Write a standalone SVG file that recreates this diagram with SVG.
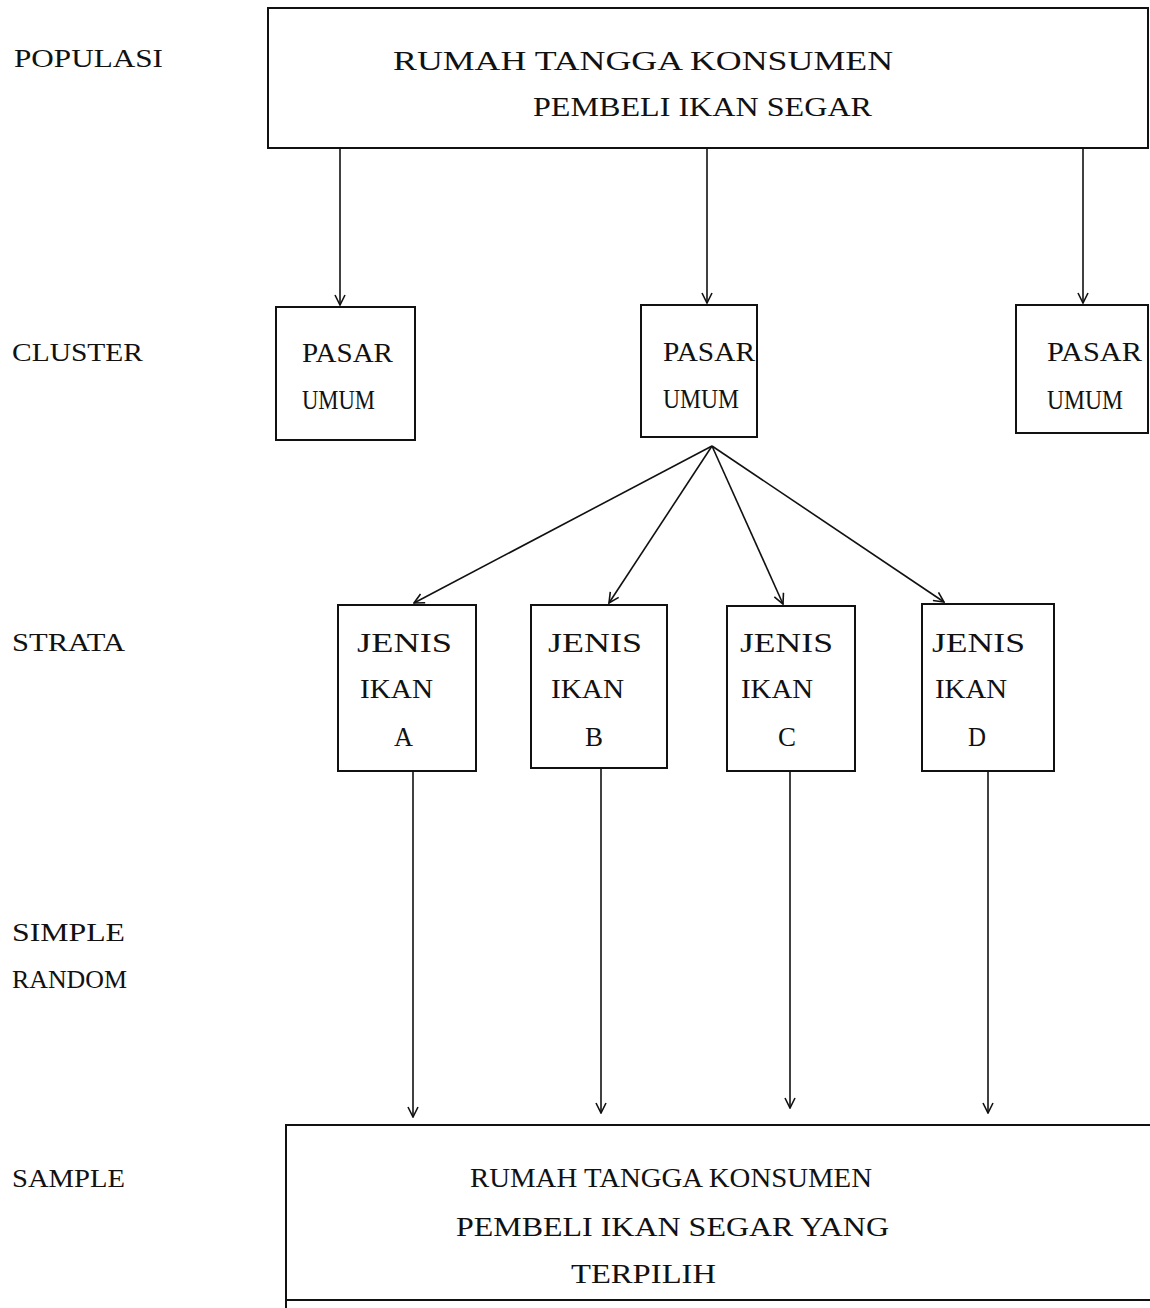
<svg xmlns="http://www.w3.org/2000/svg" width="1150" height="1308" viewBox="0 0 1150 1308">
<style>
text{font-family:"Liberation Serif","Times New Roman",serif;font-size:28px;fill:#111}
.lbl{font-size:25px}
.box{fill:none;stroke:#111;stroke-width:2}
.con{fill:none;stroke:#111;stroke-width:1.6}
</style>
<defs>
<marker id="ah" viewBox="0 0 12 12" refX="11" refY="6" markerWidth="12" markerHeight="12" markerUnits="userSpaceOnUse" orient="auto">
<path d="M1,1 L11,6 L1,11" fill="none" stroke="#111" stroke-width="1.6"/>
</marker>
</defs>
<rect width="1150" height="1308" fill="#fff"/>
<g id="labels">
<text class="lbl" x="14" y="67" textLength="149" lengthAdjust="spacingAndGlyphs">POPULASI</text>
<text class="lbl" x="12" y="361" textLength="131" lengthAdjust="spacingAndGlyphs">CLUSTER</text>
<text class="lbl" x="12" y="651" textLength="113" lengthAdjust="spacingAndGlyphs">STRATA</text>
<text class="lbl" x="12" y="941" textLength="113" lengthAdjust="spacingAndGlyphs">SIMPLE</text>
<text class="lbl" x="12" y="988" textLength="115" lengthAdjust="spacingAndGlyphs">RANDOM</text>
<text class="lbl" x="12" y="1187" textLength="113" lengthAdjust="spacingAndGlyphs">SAMPLE</text>
</g>
<g id="populasi">
<rect class="box" x="268" y="8" width="880" height="140"/>
<text x="393" y="70" textLength="500" lengthAdjust="spacingAndGlyphs">RUMAH TANGGA KONSUMEN</text>
<text x="533" y="116" textLength="339" lengthAdjust="spacingAndGlyphs">PEMBELI IKAN SEGAR</text>
</g>
<g id="cluster1">
<rect class="box" x="276" y="307" width="139" height="133"/>
<text x="302" y="362" textLength="91" lengthAdjust="spacingAndGlyphs">PASAR</text>
<text x="302" y="409" textLength="73" lengthAdjust="spacingAndGlyphs">UMUM</text>
</g>
<g id="cluster2">
<rect class="box" x="641" y="305" width="116" height="132"/>
<text x="663" y="361" textLength="92" lengthAdjust="spacingAndGlyphs">PASAR</text>
<text x="663" y="408" textLength="76" lengthAdjust="spacingAndGlyphs">UMUM</text>
</g>
<g id="cluster3">
<rect class="box" x="1016" y="305" width="132" height="128"/>
<text x="1047" y="361" textLength="95" lengthAdjust="spacingAndGlyphs">PASAR</text>
<text x="1047" y="409" textLength="76" lengthAdjust="spacingAndGlyphs">UMUM</text>
</g>
<g id="strataA">
<rect class="box" x="338" y="605" width="138" height="166"/>
<text x="357" y="652" textLength="95" lengthAdjust="spacingAndGlyphs">JENIS</text>
<text x="360" y="698" textLength="73" lengthAdjust="spacingAndGlyphs">IKAN</text>
<text x="394" y="746" textLength="19" lengthAdjust="spacingAndGlyphs">A</text>
</g>
<g id="strataB">
<rect class="box" x="531" y="605" width="136" height="163"/>
<text x="548" y="652" textLength="94" lengthAdjust="spacingAndGlyphs">JENIS</text>
<text x="551" y="698" textLength="73" lengthAdjust="spacingAndGlyphs">IKAN</text>
<text x="585" y="746" textLength="18" lengthAdjust="spacingAndGlyphs">B</text>
</g>
<g id="strataC">
<rect class="box" x="727" y="606" width="128" height="165"/>
<text x="740" y="652" textLength="93" lengthAdjust="spacingAndGlyphs">JENIS</text>
<text x="741" y="698" textLength="72" lengthAdjust="spacingAndGlyphs">IKAN</text>
<text x="778" y="746" textLength="18" lengthAdjust="spacingAndGlyphs">C</text>
</g>
<g id="strataD">
<rect class="box" x="922" y="604" width="132" height="167"/>
<text x="932" y="652" textLength="93" lengthAdjust="spacingAndGlyphs">JENIS</text>
<text x="935" y="698" textLength="72" lengthAdjust="spacingAndGlyphs">IKAN</text>
<text x="968" y="746" textLength="18" lengthAdjust="spacingAndGlyphs">D</text>
</g>
<g id="sample">
<path class="box" d="M1150,1125 L286,1125 L286,1308"/>
<path class="box" d="M286,1300 L1150,1300"/>
<text x="470" y="1187" textLength="402" lengthAdjust="spacingAndGlyphs">RUMAH TANGGA KONSUMEN</text>
<text x="456" y="1236" textLength="433" lengthAdjust="spacingAndGlyphs">PEMBELI IKAN SEGAR YANG</text>
<text x="571" y="1283" textLength="145" lengthAdjust="spacingAndGlyphs">TERPILIH</text>
</g>
<g id="connectors">
<line class="con" x1="340" y1="148" x2="340" y2="305" marker-end="url(#ah)"/>
<line class="con" x1="707" y1="148" x2="707" y2="303" marker-end="url(#ah)"/>
<line class="con" x1="1083" y1="148" x2="1083" y2="303" marker-end="url(#ah)"/>
<line class="con" x1="712" y1="446" x2="414" y2="603" marker-end="url(#ah)"/>
<line class="con" x1="712" y1="446" x2="609" y2="603" marker-end="url(#ah)"/>
<line class="con" x1="712" y1="446" x2="783" y2="604" marker-end="url(#ah)"/>
<line class="con" x1="712" y1="446" x2="944" y2="602" marker-end="url(#ah)"/>
<line class="con" x1="413" y1="771" x2="413" y2="1117" marker-end="url(#ah)"/>
<line class="con" x1="601" y1="768" x2="601" y2="1113" marker-end="url(#ah)"/>
<line class="con" x1="790" y1="771" x2="790" y2="1108" marker-end="url(#ah)"/>
<line class="con" x1="988" y1="771" x2="988" y2="1113" marker-end="url(#ah)"/>
</g>
</svg>
